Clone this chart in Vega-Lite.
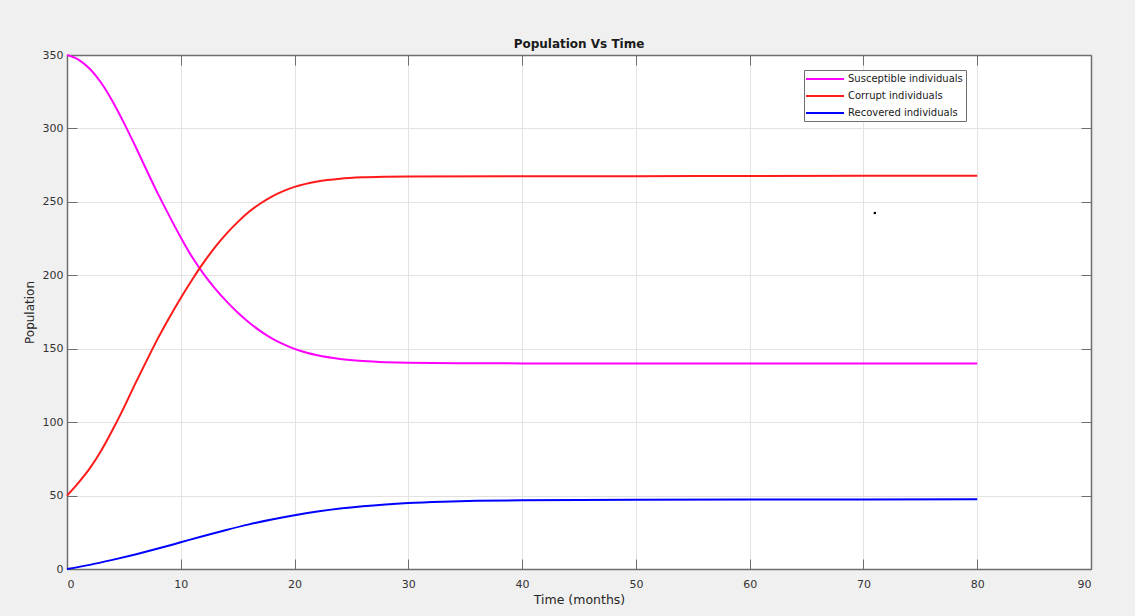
{
  "$schema": "https://vega.github.io/schema/vega-lite/v6.json",
  "autosize": "none",
  "width": 1024,
  "height": 514,
  "padding": {"left": 67, "top": 55, "right": 44, "bottom": 47},
  "background": "#f0f0f0",
  "config": {
    "view": {"fill": "white", "stroke": null},
    "font": "DejaVu Sans"
  },
  "title": {
    "text": "Population Vs Time",
    "fontSize": 12,
    "fontWeight": "bold",
    "color": "#1a1a1a",
    "offset": -2,
    "font": "DejaVu Sans"
  },
  "datasets": {
    "curves": [
      {"t": 0, "population": 350, "series": "Susceptible individuals"},
      {"t": 1, "population": 346.9, "series": "Susceptible individuals"},
      {"t": 2, "population": 340.6, "series": "Susceptible individuals"},
      {"t": 3, "population": 331.1, "series": "Susceptible individuals"},
      {"t": 4, "population": 318.5, "series": "Susceptible individuals"},
      {"t": 5, "population": 303.8, "series": "Susceptible individuals"},
      {"t": 6, "population": 288, "series": "Susceptible individuals"},
      {"t": 7, "population": 271.5, "series": "Susceptible individuals"},
      {"t": 8, "population": 255.4, "series": "Susceptible individuals"},
      {"t": 9, "population": 240.3, "series": "Susceptible individuals"},
      {"t": 10, "population": 225.8, "series": "Susceptible individuals"},
      {"t": 11, "population": 212.4, "series": "Susceptible individuals"},
      {"t": 12, "population": 201, "series": "Susceptible individuals"},
      {"t": 13, "population": 191.1, "series": "Susceptible individuals"},
      {"t": 14, "population": 182.4, "series": "Susceptible individuals"},
      {"t": 15, "population": 174.7, "series": "Susceptible individuals"},
      {"t": 16, "population": 167.9, "series": "Susceptible individuals"},
      {"t": 17, "population": 162, "series": "Susceptible individuals"},
      {"t": 18, "population": 157.1, "series": "Susceptible individuals"},
      {"t": 19, "population": 153.1, "series": "Susceptible individuals"},
      {"t": 20, "population": 149.9, "series": "Susceptible individuals"},
      {"t": 21, "population": 147.4, "series": "Susceptible individuals"},
      {"t": 22, "population": 145.5, "series": "Susceptible individuals"},
      {"t": 24, "population": 143, "series": "Susceptible individuals"},
      {"t": 26, "population": 141.6, "series": "Susceptible individuals"},
      {"t": 28, "population": 140.8, "series": "Susceptible individuals"},
      {"t": 30, "population": 140.4, "series": "Susceptible individuals"},
      {"t": 35, "population": 140.1, "series": "Susceptible individuals"},
      {"t": 40, "population": 140, "series": "Susceptible individuals"},
      {"t": 50, "population": 140, "series": "Susceptible individuals"},
      {"t": 60, "population": 140, "series": "Susceptible individuals"},
      {"t": 70, "population": 140, "series": "Susceptible individuals"},
      {"t": 80, "population": 140, "series": "Susceptible individuals"},
      {"t": 0, "population": 50, "series": "Corrupt individuals"},
      {"t": 1, "population": 58.7, "series": "Corrupt individuals"},
      {"t": 2, "population": 68.5, "series": "Corrupt individuals"},
      {"t": 3, "population": 80.5, "series": "Corrupt individuals"},
      {"t": 4, "population": 94.6, "series": "Corrupt individuals"},
      {"t": 5, "population": 109.9, "series": "Corrupt individuals"},
      {"t": 6, "population": 126.2, "series": "Corrupt individuals"},
      {"t": 7, "population": 141.9, "series": "Corrupt individuals"},
      {"t": 8, "population": 157.2, "series": "Corrupt individuals"},
      {"t": 9, "population": 171.3, "series": "Corrupt individuals"},
      {"t": 10, "population": 184.6, "series": "Corrupt individuals"},
      {"t": 11, "population": 197, "series": "Corrupt individuals"},
      {"t": 12, "population": 208.6, "series": "Corrupt individuals"},
      {"t": 13, "population": 219, "series": "Corrupt individuals"},
      {"t": 14, "population": 228.2, "series": "Corrupt individuals"},
      {"t": 15, "population": 236.2, "series": "Corrupt individuals"},
      {"t": 16, "population": 243.2, "series": "Corrupt individuals"},
      {"t": 17, "population": 248.9, "series": "Corrupt individuals"},
      {"t": 18, "population": 253.6, "series": "Corrupt individuals"},
      {"t": 19, "population": 257.3, "series": "Corrupt individuals"},
      {"t": 20, "population": 260.2, "series": "Corrupt individuals"},
      {"t": 22, "population": 263.9, "series": "Corrupt individuals"},
      {"t": 24, "population": 265.8, "series": "Corrupt individuals"},
      {"t": 26, "population": 266.7, "series": "Corrupt individuals"},
      {"t": 28, "population": 267.1, "series": "Corrupt individuals"},
      {"t": 30, "population": 267.3, "series": "Corrupt individuals"},
      {"t": 40, "population": 267.5, "series": "Corrupt individuals"},
      {"t": 50, "population": 267.5, "series": "Corrupt individuals"},
      {"t": 60, "population": 267.6, "series": "Corrupt individuals"},
      {"t": 70, "population": 267.7, "series": "Corrupt individuals"},
      {"t": 80, "population": 267.8, "series": "Corrupt individuals"},
      {"t": 0, "population": 0, "series": "Recovered individuals"},
      {"t": 2, "population": 2.8, "series": "Recovered individuals"},
      {"t": 4, "population": 6.2, "series": "Recovered individuals"},
      {"t": 6, "population": 9.9, "series": "Recovered individuals"},
      {"t": 8, "population": 13.9, "series": "Recovered individuals"},
      {"t": 10, "population": 18.2, "series": "Recovered individuals"},
      {"t": 12, "population": 22.5, "series": "Recovered individuals"},
      {"t": 14, "population": 26.6, "series": "Recovered individuals"},
      {"t": 16, "population": 30.4, "series": "Recovered individuals"},
      {"t": 18, "population": 33.7, "series": "Recovered individuals"},
      {"t": 20, "population": 36.6, "series": "Recovered individuals"},
      {"t": 22, "population": 39.1, "series": "Recovered individuals"},
      {"t": 24, "population": 41.2, "series": "Recovered individuals"},
      {"t": 26, "population": 42.8, "series": "Recovered individuals"},
      {"t": 28, "population": 44, "series": "Recovered individuals"},
      {"t": 30, "population": 44.9, "series": "Recovered individuals"},
      {"t": 33, "population": 45.8, "series": "Recovered individuals"},
      {"t": 36, "population": 46.4, "series": "Recovered individuals"},
      {"t": 40, "population": 46.8, "series": "Recovered individuals"},
      {"t": 50, "population": 47.2, "series": "Recovered individuals"},
      {"t": 60, "population": 47.3, "series": "Recovered individuals"},
      {"t": 70, "population": 47.4, "series": "Recovered individuals"},
      {"t": 80, "population": 47.5, "series": "Recovered individuals"}
    ],
    "dot": [{"t": 71.0, "population": 242.4}]
  },
  "layer": [
    {
      "data": {"name": "curves"},
      "mark": {"type": "line", "strokeWidth": 2, "interpolate": "monotone"},
      "encoding": {
        "x": {
          "field": "t", "type": "quantitative",
          "scale": {"domain": [0, 90], "nice": false, "zero": false},
          "axis": {
            "title": "Time (months)",
            "values": [0, 10, 20, 30, 40, 50, 60, 70, 80, 90],
            "tickSize": -10,
            "tickColor": "#6e6e6e",
            "domainColor": "#6e6e6e",
            "domainWidth": 1.5,
            "gridColor": "#e3e3e3",
            "labelFontSize": 11,
            "labelColor": "#333333",
            "labelPadding": 19,
            "labelFont": "DejaVu Sans",
            "titleFont": "DejaVu Sans",
            "titleFontSize": 12.5,
            "titleFontWeight": "normal",
            "titleColor": "#262626",
            "titlePadding": 4
          }
        },
        "y": {
          "field": "population", "type": "quantitative",
          "scale": {"domain": [0, 350], "nice": false},
          "axis": {
            "title": "Population",
            "values": [0, 50, 100, 150, 200, 250, 300, 350],
            "tickSize": -10,
            "tickColor": "#6e6e6e",
            "domainColor": "#6e6e6e",
            "domainWidth": 1.5,
            "gridColor": "#e3e3e3",
            "labelFontSize": 11,
            "labelColor": "#333333",
            "labelPadding": 14,
            "labelFont": "DejaVu Sans",
            "titleFont": "DejaVu Sans",
            "titleFontSize": 12,
            "titleFontWeight": "normal",
            "titleColor": "#262626",
            "titlePadding": 6
          }
        },
        "color": {
          "field": "series", "type": "nominal",
          "sort": ["Susceptible individuals", "Corrupt individuals", "Recovered individuals"],
          "scale": {
            "domain": ["Susceptible individuals", "Corrupt individuals", "Recovered individuals"],
            "range": ["#ff00ff", "#ff1a1a", "#0000ff"]
          },
          "legend": {
            "title": null,
            "orient": "none",
            "legendX": 737,
            "legendY": 15,
            "fillColor": "white",
            "strokeColor": "#6e6e6e",
            "padding": 3,
            "symbolType": "M-4,0L4,0",
            "symbolSize": 90,
            "symbolStrokeWidth": 2,
            "symbolOffset": 12,
            "labelOffset": 17,
            "labelFontSize": 10,
            "labelFont": "DejaVu Sans",
            "labelColor": "#1a1a1a",
            "rowPadding": 6,
            "labelLimit": 200
          }
        }
      }
    },
    {
      "data": {"name": "dot"},
      "mark": {"type": "square", "size": 5, "color": "black", "opacity": 1},
      "encoding": {
        "x": {
          "field": "t", "type": "quantitative",
          "axis": {
            "orient": "top", "title": null, "labels": false, "grid": false,
            "values": [0, 10, 20, 30, 40, 50, 60, 70, 80, 90],
            "tickSize": -10, "tickColor": "#6e6e6e",
            "domainColor": "#6e6e6e", "domainWidth": 1.5
          }
        },
        "y": {
          "field": "population", "type": "quantitative",
          "axis": {
            "orient": "right", "title": null, "labels": false, "grid": false,
            "values": [0, 50, 100, 150, 200, 250, 300, 350],
            "tickSize": -10, "tickColor": "#6e6e6e",
            "domainColor": "#6e6e6e", "domainWidth": 1.5
          }
        }
      }
    }
  ],
  "resolve": {"axis": {"x": "independent", "y": "independent"}}
}
